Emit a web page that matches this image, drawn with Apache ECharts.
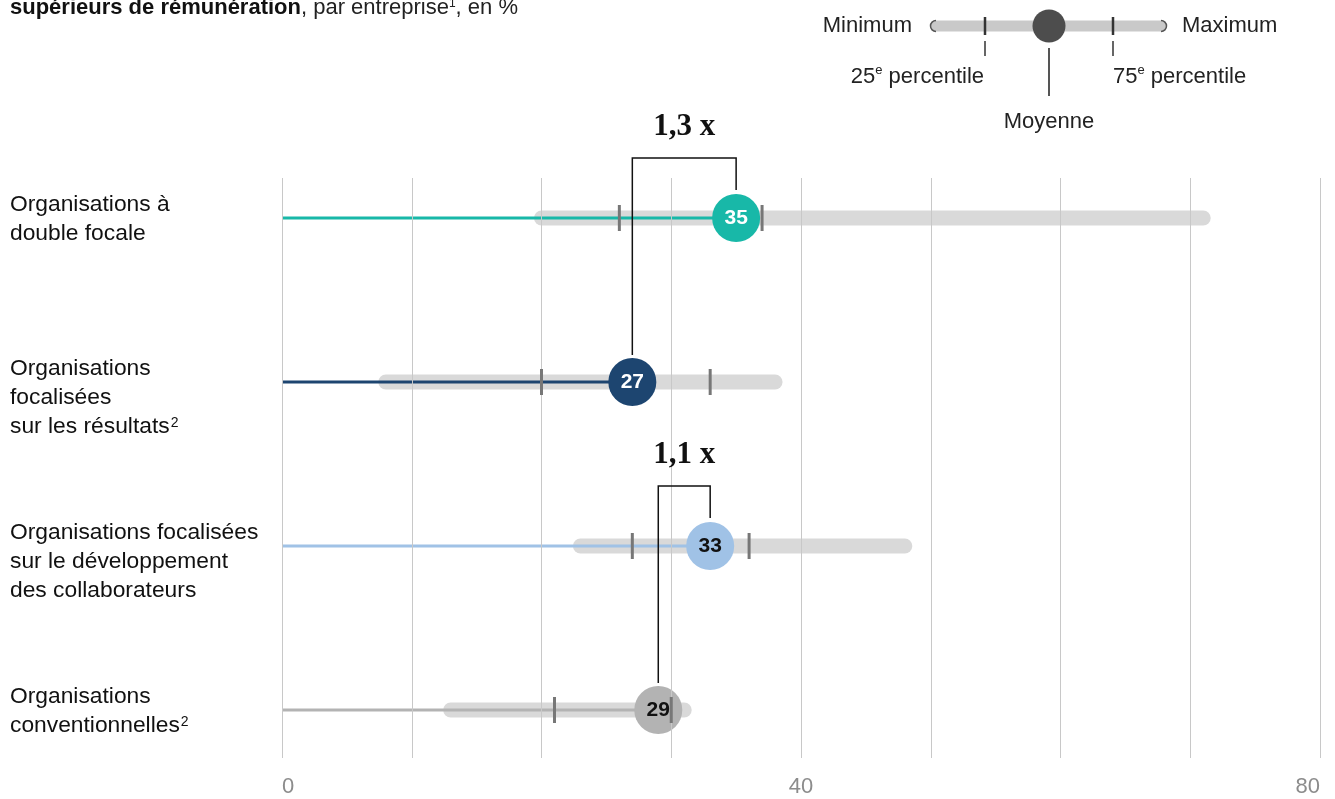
<!DOCTYPE html>
<html>
<head>
<meta charset="utf-8">
<style>
  html, body { margin: 0; padding: 0; background: #ffffff; }
  #chart { width: 1335px; height: 799px; }
</style>
<script src="https://cdn.jsdelivr.net/npm/echarts@6/dist/echarts.min.js"></script>
</head>
<body>
<div id="chart"></div>
<script>
// Share of pay-band ranges, per organisation type (%)
const categories = [
  'Organisations à\ndouble focale',
  'Organisations\nfocalisées\nsur les résultats²',
  'Organisations focalisées\nsur le développement\ndes collaborateurs',
  'Organisations\nconventionnelles²'
];
const minimum = [20, 8, 23, 13];
const p25 = [26, 20, 27, 21];
const mean = [35, 27, 33, 29];
const p75 = [37, 33, 36, 30];
const maximum = [71, 38, 48, 31];
const xTickLabels = [0, 40, 80];
// Ratio brackets between two means: lower row -> upper row
const ratioFrom = [1, 3];
const ratioTo = [0, 2];
const ratioLabels = ['1,3 x', '1,1 x'];

const rowColors = ['#18b8a8', '#1d4570', '#a0c2e6', '#b3b3b3'];
const labelColors = ['#ffffff', '#ffffff', '#111111', '#111111'];

const SANS = '"Liberation Sans", Arial, sans-serif';
const SERIF = '"Liberation Serif", "Times New Roman", serif';

const chart = echarts.init(document.getElementById('chart'), null, { renderer: 'canvas' });

const rows = categories.map((c, i) => i);

// superscript digits rendered as small raised tokens
function richLabel(s) {
  return s.split('\n').map(line =>
    '{n|' + line.replace(/²/g, '}{s|2}{n|') + '}'
  ).join('\n');
}

const option = {
  animation: false,
  backgroundColor: '#ffffff',
  grid: [
    // gridlines + value labels
    { left: 282, right: 15, top: 178, height: 580 },
    // rows
    { left: 282, right: 15, top: 136, height: 656 }
  ],
  xAxis: [
    {
      gridIndex: 0, type: 'value', min: 0, max: 80, interval: 10, z: 5.5,
      axisLine: { show: false }, axisTick: { show: false },
      splitLine: { show: true, lineStyle: { color: '#c8c8c8', width: 1 } },
      axisLabel: {
        margin: 18, fontSize: 22, color: '#8c8c8c', fontFamily: SANS,
        alignMinLabel: 'left', alignMaxLabel: 'right',
        formatter: v => (xTickLabels.indexOf(v) >= 0 ? String(v) : '')
      }
    },
    { gridIndex: 1, type: 'value', min: 0, max: 80, show: false }
  ],
  yAxis: [
    { gridIndex: 0, type: 'value', show: false, min: 0, max: 1 },
    { gridIndex: 1, type: 'category', data: categories, inverse: true, show: false }
  ],
  series: [
    // row labels
    {
      type: 'custom', xAxisIndex: 1, yAxisIndex: 1, z: 2, silent: true, clip: false,
      data: rows.map(i => [0, i]),
      renderItem: (params, api) => {
        const i = params.dataIndex;
        const p = api.coord([0, i]);
        return {
          type: 'text',
          style: {
            x: 10, y: p[1] - 28, text: richLabel(categories[i]),
            textAlign: 'left', textVerticalAlign: 'top',
            rich: {
              n: { fontSize: 22.8, fontFamily: SANS, fill: '#111111', lineHeight: 29 },
              s: { fontSize: 14, fontFamily: SANS, fill: '#111111', lineHeight: 14, verticalAlign: 'top', padding: [4, 0, 0, 1] }
            }
          }
        };
      }
    },
    // min-max range bars
    {
      type: 'custom', xAxisIndex: 1, yAxisIndex: 1, z: 3, silent: true, clip: false,
      data: rows.map(i => [minimum[i], maximum[i], i]),
      renderItem: (params, api) => {
        const i = params.dataIndex;
        const a = api.coord([api.value(0), i]);
        const b = api.coord([api.value(1), i]);
        return {
          type: 'line',
          shape: { x1: a[0], y1: a[1], x2: b[0], y2: b[1] },
          style: { stroke: '#d9d9d9', lineWidth: 15, lineCap: 'round' }
        };
      }
    },
    // line from 0 to the mean
    {
      type: 'custom', xAxisIndex: 1, yAxisIndex: 1, z: 4, silent: true, clip: false,
      data: rows.map(i => [0, mean[i], i]),
      renderItem: (params, api) => {
        const i = params.dataIndex;
        const a = api.coord([api.value(0), i]);
        const b = api.coord([api.value(1), i]);
        return {
          type: 'line',
          shape: { x1: a[0], y1: a[1], x2: b[0], y2: b[1] },
          style: { stroke: rowColors[i], lineWidth: 3 }
        };
      }
    },
    // mean dots
    {
      type: 'scatter', xAxisIndex: 1, yAxisIndex: 1, z: 5, silent: true,
      symbol: 'circle', symbolSize: 48,
      data: rows.map(i => ({
        value: [mean[i], i],
        itemStyle: { color: rowColors[i], opacity: 1 },
        label: { color: labelColors[i] }
      })),
      itemStyle: { opacity: 1 },
      label: {
        show: true, position: 'inside', fontSize: 21, fontWeight: 'bold', fontFamily: SANS,
        formatter: p => String(p.value[0])
      }
    },
    // 25th / 75th percentile ticks
    {
      type: 'custom', xAxisIndex: 1, yAxisIndex: 1, z: 6, silent: true, clip: false,
      data: rows.map(i => [p25[i], p75[i], i]),
      renderItem: (params, api) => {
        const i = params.dataIndex;
        const children = [api.value(0), api.value(1)].map(v => {
          const p = api.coord([v, i]);
          return {
            type: 'line',
            shape: { x1: p[0], y1: p[1] - 13, x2: p[0], y2: p[1] + 13 },
            style: { stroke: '#777777', lineWidth: 3 }
          };
        });
        return { type: 'group', children };
      }
    },
    // ratio brackets
    {
      type: 'custom', xAxisIndex: 1, yAxisIndex: 1, z: 7, silent: true, clip: false,
      data: ratioFrom.map((f, k) => [mean[f], f, mean[ratioTo[k]], ratioTo[k]]),
      renderItem: (params, api) => {
        const k = params.dataIndex;
        const lo = api.coord([api.value(0), ratioFrom[k]]);
        const hi = api.coord([api.value(2), ratioTo[k]]);
        const top = hi[1] - 60;
        return {
          type: 'group',
          children: [
            {
              type: 'polyline',
              shape: { points: [[lo[0], lo[1] - 27], [lo[0], top], [hi[0], top], [hi[0], hi[1] - 28]] },
              style: { stroke: '#111111', lineWidth: 1.5, fill: null }
            },
            {
              type: 'text',
              style: {
                x: (lo[0] + hi[0]) / 2, y: top - 31, text: ratioLabels[k],
                fill: '#111111', font: 'bold 31px ' + SERIF,
                textAlign: 'center', textVerticalAlign: 'middle'
              }
            }
          ]
        };
      }
    }
  ],
  graphic: [
    // heading (continues from above)
    {
      type: 'text', left: 10, top: -5, silent: true,
      style: {
        text: '{b|supérieurs de rémunération}{r|, par entreprise}{s|1}{r|, en %}',
        rich: {
          b: { fontSize: 22, fontWeight: 'bold', fontFamily: SANS, fill: '#111111', lineHeight: 26 },
          r: { fontSize: 22, fontFamily: SANS, fill: '#222222', lineHeight: 26 },
          s: { fontSize: 12, fontFamily: SANS, fill: '#222222', lineHeight: 12, verticalAlign: 'top', padding: [3, 0, 0, 0] }
        }
      }
    },
    // key
    { type: 'text', silent: true, style: { x: 912, y: 26, text: 'Minimum', font: '22px ' + SANS, fill: '#222222', textAlign: 'right', textVerticalAlign: 'middle' } },
    { type: 'text', silent: true, style: { x: 1182, y: 26, text: 'Maximum', font: '22px ' + SANS, fill: '#222222', textAlign: 'left', textVerticalAlign: 'middle' } },
    { type: 'line', silent: true, shape: { x1: 936, y1: 26, x2: 1161, y2: 26 }, style: { stroke: '#c9c9c9', lineWidth: 11, lineCap: 'round' } },
    { type: 'arc', silent: true, shape: { cx: 936, cy: 26, r: 5.5, startAngle: Math.PI / 2, endAngle: Math.PI * 1.5 }, style: { stroke: '#555555', lineWidth: 1.5, fill: null } },
    { type: 'arc', silent: true, shape: { cx: 1161, cy: 26, r: 5.5, startAngle: -Math.PI / 2, endAngle: Math.PI / 2 }, style: { stroke: '#555555', lineWidth: 1.5, fill: null } },
    { type: 'line', silent: true, shape: { x1: 985, y1: 17, x2: 985, y2: 35 }, style: { stroke: '#333333', lineWidth: 2.5 } },
    { type: 'line', silent: true, shape: { x1: 1113, y1: 17, x2: 1113, y2: 35 }, style: { stroke: '#333333', lineWidth: 2.5 } },
    { type: 'line', silent: true, shape: { x1: 985, y1: 41, x2: 985, y2: 56 }, style: { stroke: '#666666', lineWidth: 2 } },
    { type: 'line', silent: true, shape: { x1: 1113, y1: 41, x2: 1113, y2: 56 }, style: { stroke: '#666666', lineWidth: 2 } },
    { type: 'circle', silent: true, shape: { cx: 1049, cy: 26, r: 16.5 }, style: { fill: '#4d4d4d' } },
    { type: 'line', silent: true, shape: { x1: 1049, y1: 48, x2: 1049, y2: 96 }, style: { stroke: '#555555', lineWidth: 2 } },
    {
      type: 'text', silent: true,
      style: {
        x: 984, y: 77, textAlign: 'right', textVerticalAlign: 'middle',
        text: '{n|25}{s|e}{n| percentile}',
        rich: {
          n: { fontSize: 22, fontFamily: SANS, fill: '#222222', lineHeight: 26 },
          s: { fontSize: 13, fontFamily: SANS, fill: '#222222', lineHeight: 13, verticalAlign: 'top' }
        }
      }
    },
    {
      type: 'text', silent: true,
      style: {
        x: 1113, y: 77, textAlign: 'left', textVerticalAlign: 'middle',
        text: '{n|75}{s|e}{n| percentile}',
        rich: {
          n: { fontSize: 22, fontFamily: SANS, fill: '#222222', lineHeight: 26 },
          s: { fontSize: 13, fontFamily: SANS, fill: '#222222', lineHeight: 13, verticalAlign: 'top' }
        }
      }
    },
    { type: 'text', silent: true, style: { x: 1049, y: 122, text: 'Moyenne', font: '22px ' + SANS, fill: '#222222', textAlign: 'center', textVerticalAlign: 'middle' } }
  ]
};

chart.setOption(option);
</script>
</body>
</html>
